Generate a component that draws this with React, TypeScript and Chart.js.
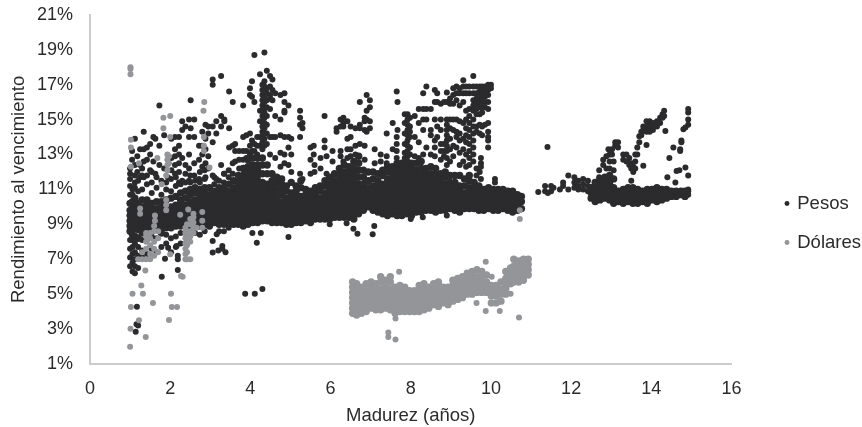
import React, { useEffect, useRef } from "react";
import { Chart, registerables } from "chart.js";

Chart.register(...registerables);

// Each row: [madurez, rendimiento, rendimiento, ...]
const pesosBandA = [
  [1.0, 8.6, 8.9, 9.2, 9.5, 9.8, 10.2],
  [1.06, 8.4, 8.7, 9.0, 9.3, 9.6, 9.9, 10.3],
  [1.12, 8.3, 8.8, 9.1, 9.4, 9.7, 10.0, 10.5],
  [1.2, 8.2, 8.7, 9.0, 9.3, 9.6, 9.9, 10.2],
  [1.3, 8.5, 8.8, 9.1, 9.4, 9.7, 10.0, 10.4],
  [1.42, 8.6, 8.9, 9.2, 9.5, 9.8, 10.1, 10.4],
  [1.54, 8.7, 9.0, 9.3, 9.6, 9.9, 10.2],
  [1.66, 8.7, 9.0, 9.3, 9.6, 9.9, 10.3],
  [1.78, 8.5, 8.8, 9.1, 9.4, 9.7, 10.0, 10.3],
  [1.9, 8.8, 9.1, 9.4, 9.7, 10.0, 10.4],
  [2.02, 8.8, 9.1, 9.4, 9.7, 10.0, 10.5],
  [2.14, 8.9, 9.2, 9.5, 9.8, 10.1, 10.6],
  [2.26, 8.9, 9.2, 9.5, 9.8, 10.1, 10.4, 10.8],
  [2.38, 8.9, 9.2, 9.5, 9.8, 10.1, 10.5, 10.9],
  [2.5, 8.8, 9.1, 9.4, 9.7, 10.0, 10.3, 10.7, 11.0],
  [2.62, 8.9, 9.2, 9.5, 9.8, 10.1, 10.4, 10.8, 11.1],
  [2.74, 8.9, 9.2, 9.5, 9.8, 10.1, 10.4, 10.7, 11.0],
  [2.86, 9.0, 9.3, 9.6, 9.9, 10.2, 10.5, 10.8, 11.1],
  [2.98, 8.9, 9.2, 9.5, 9.8, 10.1, 10.4, 10.7, 11.1],
  [3.1, 9.1, 9.4, 9.7, 10.0, 10.3, 10.6, 10.9],
  [3.22, 9.0, 9.3, 9.6, 9.9, 10.2, 10.5, 10.8, 11.1],
  [3.34, 9.0, 9.3, 9.6, 9.9, 10.2, 10.5, 10.8, 11.1],
  [3.46, 9.1, 9.4, 9.7, 10.0, 10.3, 10.6, 10.9, 11.3],
  [3.58, 9.0, 9.3, 9.6, 9.9, 10.2, 10.5, 10.8, 11.1, 11.5],
  [3.7, 9.0, 9.3, 9.6, 9.9, 10.2, 10.5, 10.8, 11.1, 11.4, 11.8],
  [3.82, 8.9, 9.1, 9.4, 9.7, 10.0, 10.3, 10.6, 10.9, 11.2, 11.5, 11.8, 12.2],
  [3.94, 9.0, 9.3, 9.6, 9.9, 10.2, 10.5, 10.8, 11.1, 11.4, 11.7, 12.0, 12.3, 12.7],
  [4.06, 9.1, 9.4, 9.7, 10.0, 10.3, 10.6, 10.9, 11.2, 11.5, 11.8, 12.1, 12.4, 12.8],
  [4.18, 9.1, 9.4, 9.7, 10.0, 10.3, 10.6, 10.9, 11.2, 11.5, 11.8, 12.1, 12.4, 12.8],
  [4.3, 9.2, 9.5, 9.8, 10.1, 10.4, 10.7, 11.0, 11.4, 11.9, 12.4, 12.8],
  [4.42, 9.2, 9.5, 9.8, 10.1, 10.4, 10.7, 11.0, 11.3, 11.9, 12.4],
];

const pesosBandB = [
  [4.54, 9.1, 9.4, 9.7, 10.0, 10.3, 10.6, 10.9, 11.2, 11.5, 11.9],
  [4.66, 9.1, 9.4, 9.7, 10.0, 10.3, 10.6, 11.0, 11.4, 11.7],
  [4.78, 9.1, 9.4, 9.7, 10.0, 10.3, 10.7, 11.0, 11.3, 11.6],
  [4.9, 9.0, 9.3, 9.6, 9.9, 10.2, 10.5, 10.9, 11.2],
  [5.02, 9.0, 9.3, 9.6, 9.9, 10.2, 10.5, 10.8, 11.4],
  [5.14, 9.1, 9.4, 9.7, 10.0, 10.3, 10.6, 10.9, 11.2],
  [5.26, 9.1, 9.4, 9.7, 10.0, 10.3, 10.6, 11.1, 11.5],
  [5.38, 9.2, 9.5, 9.8, 10.1, 10.4, 10.7, 11.0],
  [5.5, 9.1, 9.4, 9.7, 10.0, 10.3, 10.6, 10.9],
  [5.62, 9.3, 9.6, 9.9, 10.2, 10.5, 10.8, 11.1],
  [5.74, 9.3, 9.6, 9.9, 10.2, 10.5, 10.9, 11.2],
  [5.86, 9.3, 9.6, 9.9, 10.2, 10.5, 10.8, 11.2, 11.5],
  [5.98, 9.3, 9.5, 9.8, 10.1, 10.4, 10.7, 11.0, 11.3, 11.7],
  [6.1, 9.4, 9.7, 10.0, 10.3, 10.6, 10.9, 11.2, 11.5, 11.9],
  [6.22, 9.4, 9.7, 10.0, 10.3, 10.6, 10.9, 11.2, 11.5, 11.8, 12.2],
  [6.34, 9.4, 9.6, 9.9, 10.2, 10.5, 10.8, 11.1, 11.4, 11.7, 12.0, 12.4],
  [6.46, 9.4, 9.6, 9.9, 10.2, 10.5, 10.8, 11.1, 11.4, 11.7, 12.0, 12.3],
  [6.58, 9.3, 9.5, 9.8, 10.1, 10.4, 10.7, 11.0, 11.3, 11.6, 11.9, 12.2, 12.6],
  [6.7, 9.6, 9.8, 10.1, 10.4, 10.7, 11.0, 11.3, 11.7, 12.1, 12.5, 12.9],
  [6.82, 9.8, 10.1, 10.4, 10.7, 11.0, 11.3, 11.7, 12.1],
  [6.94, 10.0, 10.2, 10.5, 10.8, 11.1, 11.5, 12.0],
  [7.06, 9.8, 10.0, 10.3, 10.6, 10.9, 11.2, 11.6, 12.0],
  [7.18, 9.7, 10.0, 10.3, 10.6, 10.9, 11.2, 11.5, 11.9],
  [7.3, 9.6, 9.8, 10.1, 10.4, 10.7, 11.0, 11.3, 11.8, 12.1],
  [7.42, 9.5, 9.8, 10.1, 10.4, 10.7, 11.0, 11.3, 11.6, 12.0, 12.3],
  [7.54, 9.6, 9.9, 10.2, 10.5, 10.8, 11.1, 11.4, 11.7, 12.0, 12.3],
  [7.66, 9.5, 9.8, 10.1, 10.4, 10.7, 11.0, 11.3, 11.6, 11.9, 12.2, 12.5],
  [7.78, 9.5, 9.8, 10.1, 10.4, 10.7, 11.0, 11.3, 11.6, 11.9, 12.2, 12.5],
  [7.9, 9.6, 9.9, 10.2, 10.5, 10.8, 11.1, 11.4, 11.7, 12.0, 12.3, 12.6],
  [8.02, 9.5, 9.8, 10.1, 10.4, 10.7, 11.0, 11.3, 11.6, 11.9, 12.2, 12.5],
  [8.14, 9.7, 10.0, 10.3, 10.6, 10.9, 11.2, 11.5, 11.8, 12.1, 12.5],
  [8.26, 9.7, 10.0, 10.3, 10.6, 10.9, 11.2, 11.5, 11.8, 12.2, 12.6],
  [8.38, 9.8, 10.1, 10.4, 10.7, 11.0, 11.3, 11.6, 11.9, 12.2],
  [8.5, 9.8, 10.1, 10.4, 10.7, 11.0, 11.3, 11.6, 11.9, 12.3],
  [8.62, 9.7, 10.0, 10.3, 10.6, 10.9, 11.2, 11.5, 11.8, 12.2],
  [8.74, 9.8, 10.1, 10.4, 10.7, 11.0, 11.3, 11.6, 11.9],
  [8.86, 9.8, 10.1, 10.4, 10.7, 11.0, 11.3, 11.7, 12.0],
  [8.98, 9.9, 10.2, 10.5, 10.8, 11.1, 11.4, 11.8],
];

const pesosBandC = [
  [9.1, 9.8, 10.1, 10.4, 10.7, 11.0, 11.4, 11.8],
  [9.22, 9.7, 10.0, 10.3, 10.6, 10.9, 11.2, 11.8],
  [9.34, 9.9, 10.2, 10.5, 10.8, 11.2, 11.6],
  [9.46, 9.9, 10.2, 10.5, 10.8, 11.1, 11.5, 11.8],
  [9.58, 9.9, 10.2, 10.5, 10.8, 11.1, 11.4],
  [9.7, 9.8, 10.1, 10.4, 10.7, 11.0, 11.2],
  [9.82, 9.8, 10.1, 10.4, 10.7, 11.0],
  [9.94, 9.9, 10.2, 10.5, 10.8, 11.1],
  [10.06, 9.8, 10.1, 10.4, 10.7, 11.0],
  [10.18, 9.8, 10.1, 10.4, 10.7, 11.0],
  [10.3, 9.9, 10.2, 10.5, 10.8, 11.0],
  [10.42, 9.8, 10.1, 10.4, 10.7, 10.9],
  [10.54, 9.7, 10.0, 10.3, 10.6, 10.9],
  [10.66, 9.8, 10.1, 10.4, 10.7],
  [10.76, 9.9, 10.3, 10.6],
  [12.5, 10.5, 10.8, 11.1], [12.6, 10.3, 10.5, 10.8, 11.1, 11.4],
  [12.72, 10.4, 10.7, 11.0, 11.3, 11.6], [12.84, 10.5, 10.8, 11.1, 11.4, 11.7],
  [12.96, 10.4, 10.7, 11.0, 11.4, 11.8], [13.06, 10.2, 10.5, 10.8, 11.1, 11.6],
  [13.18, 10.3, 10.6, 10.9], [13.3, 10.2, 10.5, 10.8, 11.0], [13.42, 10.3, 10.6, 10.9, 11.1],
  [13.54, 10.2, 10.5, 10.8, 11.1], [13.66, 10.2, 10.5, 10.8, 11.0], [13.78, 10.3, 10.6, 10.9],
  [13.9, 10.2, 10.5, 10.8, 11.0], [14.02, 10.4, 10.7, 11.0], [14.14, 10.3, 10.6, 10.9, 11.1],
  [14.26, 10.4, 10.7, 11.0], [14.38, 10.5, 10.8, 11.0], [14.5, 10.6, 10.9],
  [14.62, 10.6, 10.9], [14.74, 10.7, 10.9], [14.84, 10.6, 10.9],
];

const pesosGapRight = [
  [11.18, 10.85], [11.35, 10.9, 11.2], [11.42, 10.8], [11.5, 10.9, 11.2], [11.56, 11.1],
  [11.72, 11.0], [11.8, 11.4, 11.2], [11.93, 11.8, 11.0],
  [12.08, 11.7, 11.4, 11.1], [12.18, 11.5, 11.2, 11.0], [12.3, 11.6, 11.3, 11.0], [12.42, 11.5, 11.2, 10.9],
  [12.96, 12.2, 12.6, 13.0], [13.06, 12.1, 12.6], [14.92, 10.7, 10.9, 11.0],
];

const pesosStrip = [
  [1.0, 6.6, 7.1, 7.6, 8.1, 10.7, 11.2, 11.6, 11.9, 12.2],
  [1.06, 6.3, 6.8, 7.3, 7.7, 8.1, 10.7, 11.0],
  [1.12, 6.2, 6.6, 7.0, 7.4, 7.9, 11.1, 11.4],
  [1.2, 6.5, 7.2, 7.7, 10.9, 11.5],
  [1.3, 7.1, 7.5, 8.1, 11.0, 11.8, 12.2],
  [1.42, 7.3, 8.1, 11.3, 11.8],
  [1.54, 7.6, 8.3, 10.8, 11.4, 12.0],
  [1.66, 7.4, 8.2, 11.1, 11.7],
  [1.78, 7.7, 10.7, 11.5],
  [1.9, 7.9, 8.4, 11.0, 11.4],
  [2.02, 7.4, 8.2, 10.9, 11.6],
  [2.14, 7.7, 8.3, 11.2, 11.7],
  [2.26, 7.9, 8.5, 11.3],
  [2.38, 8.5, 11.4, 11.9],
  [2.5, 8.4, 11.4, 11.8],
  [2.62, 8.5, 11.5],
  [2.74, 8.4, 11.4, 12.0],
  [2.86, 8.6, 11.6, 12.1],
  [3.1, 11.3, 11.7],
  [3.22, 8.6, 11.5],
  [3.34, 8.6, 11.4, 11.9],
  [3.46, 8.8, 11.7, 12.1],
];

const pesosUpperLeft = [
  [1.05, 12.7, 13.2], [1.12, 11.8, 12.4, 13.9], [1.18, 12.9, 12.0], [1.25, 13.3, 12.4, 11.7],
  [1.34, 14.3, 13.3, 12.6, 11.7], [1.42, 13.4, 12.7], [1.5, 13.6, 13.0, 12.1], [1.58, 14.0, 12.6],
  [1.63, 13.9, 11.9], [1.73, 15.8, 13.5, 12.4], [1.85, 14.1, 12.2], [1.94, 12.7, 11.7],
  [2.03, 13.9, 12.8, 12.1], [2.12, 14.0, 13.3, 12.9, 12.4, 11.9], [2.22, 14.0, 13.5, 13.0, 12.5, 12.0, 11.4],
  [2.3, 14.9, 14.4, 12.8, 11.5], [2.38, 14.6, 12.4], [2.47, 15.0, 14.0, 13.0, 12.2, 11.5],
  [2.51, 16.1, 14.5], [2.6, 15.0, 14.0, 12.5, 11.8], [2.72, 13.5, 12.7, 11.6], [2.8, 14.3, 13.5, 13.0, 12.3],
  [2.88, 14.7, 13.9, 13.3, 12.5, 11.7], [2.95, 14.6, 14.2, 12.9, 12.2], [3.06, 17.3, 17.0, 14.6, 13.7, 11.8],
  [3.15, 14.9, 14.2, 11.6], [3.27, 17.5, 15.2, 14.6, 12.4], [3.35, 15.0, 14.9, 11.9], [3.47, 16.6, 14.5, 13.4],
  [3.56, 16.0, 13.5, 12.5, 11.9], [3.62, 13.6, 13.2, 12.6], [3.72, 13.2, 12.7, 12.2], [3.82, 15.8, 14.0, 13.2, 12.7],
  [3.9, 14.1, 13.2, 12.8], [3.99, 16.8, 16.4, 14.2, 13.5, 13.0], [4.04, 17.2, 16.3, 13.8, 13.2],
  [4.1, 18.7, 16.0, 13.6, 13.2], [4.17, 14.0, 13.5, 13.0], [4.24, 17.6, 15.5, 14.9, 14.0, 13.5],
  [4.3, 17.0, 16.7, 16.4, 16.1, 15.8, 15.5, 15.2, 14.9, 14.6, 14.3, 14.0, 13.7, 13.3],
  [4.35, 18.84, 17.2, 16.9, 16.6, 16.3, 16.0, 15.7, 15.4, 15.1, 14.8, 14.5, 14.2, 13.9, 13.5],
  [4.41, 17.8, 16.8, 16.5, 16.1, 15.7, 15.2, 14.7, 14.2, 13.6],
  [4.49, 17.5, 16.9, 16.4, 16.2, 15.6, 14.0, 13.0], [4.55, 17.3, 16.7, 16.1, 14.0],
  [4.62, 16.5, 15.2, 14.0, 12.8], [4.75, 16.4, 15.0, 14.1, 13.1, 12.3], [4.85, 16.0, 16.5, 15.5, 15.4, 14.0, 13.0, 12.5],
  [4.95, 15.8, 14.0, 13.4, 12.4], [5.02, 13.9, 13.0, 12.0], [5.24, 15.5, 15.1, 14.7, 14.0, 11.9],
  [5.3, 14.8, 14.5, 11.6], [5.5, 13.4, 12.7, 11.9], [5.58, 13.5, 13.0], [5.6, 12.4, 12.0],
  [5.75, 12.8, 12.2], [5.85, 15.2, 13.8, 13.4], [5.9, 12.9, 11.9], [6.05, 13.2, 12.6], [6.15, 14.5, 14.3],
];

const pesosUpperMid = [
  [6.25, 14.6, 15.0, 13.2, 12.9], [6.32, 15.1, 14.8, 14.6, 12.6], [6.42, 14.9, 13.9, 13.3, 12.8],
  [6.5, 14.6, 14.0, 13.3, 12.9], [6.62, 14.5, 13.5, 13.0], [6.73, 16.0, 14.7, 14.5, 13.6],
  [6.85, 15.1, 14.9, 14.4, 13.5, 12.7], [6.9, 16.4, 15.5, 15.0, 14.3], [6.98, 16.1, 15.7, 14.9, 14.5],
  [7.1, 13.3, 12.5], [7.25, 13.0, 12.6], [7.4, 14.2, 12.9, 12.5], [7.55, 14.8, 13.3],
  [7.65, 16.6, 14.0, 13.6, 13.2, 12.8], [7.67, 16.0, 14.4], [7.85, 15.3, 14.8, 14.2, 13.6, 13.1, 12.8],
  [7.92, 15.3, 15.0, 14.7, 14.4, 14.1, 13.8, 13.5, 13.2, 12.9], [7.98, 15.1, 14.6, 14.3, 14.0, 13.4, 13.0],
  [8.1, 15.2, 14.0, 12.9], [8.2, 15.6, 14.8, 13.7, 12.8], [8.31, 16.5, 15.6, 15.0, 14.4, 13.0],
  [8.39, 16.9, 15.6, 15.0, 13.4], [8.5, 15.6, 14.4, 14.1, 13.0], [8.6, 16.7, 16.0, 15.0, 13.8, 13.4, 12.9],
  [8.66, 16.5, 16.0, 14.6, 14.0], [8.75, 15.9, 15.0, 14.4, 13.6, 13.2, 12.7], [8.83, 16.0, 13.6, 13.2, 12.9],
  [8.9, 16.55, 16.0, 15.0, 14.7, 14.4, 14.1, 13.8, 13.5, 13.2, 12.8, 12.4], [8.98, 16.2, 15.9, 15.0, 14.5, 13.9, 13.3, 12.6],
  [9.06, 16.8, 16.4, 15.9, 15.0, 14.4, 13.5, 12.9], [9.14, 16.9, 16.5, 16.1, 15.0, 14.3, 14.0, 13.4],
  [9.22, 16.8, 16.5, 15.8, 14.9, 14.2, 13.8, 13.1, 12.4], [9.31, 17.25, 16.9, 16.5, 16.0, 14.8, 13.9, 13.3, 12.6],
  [9.38, 16.9, 16.5, 15.5, 15.0, 14.5, 14.1, 13.7, 13.0, 12.3], [9.46, 16.9, 16.5, 15.6, 15.2, 14.8, 14.4, 14.0, 13.6, 13.2, 12.8, 12.4],
  [9.56, 17.5, 16.9, 16.5, 16.1, 15.8, 15.5, 15.0, 14.6, 14.2, 13.8, 13.4, 13.0, 12.6],
  [9.64, 16.9, 16.5, 16.2, 15.9, 15.6, 15.3, 14.6, 14.3, 12.2, 11.8], [9.72, 16.9, 16.6, 16.3, 16.0, 15.7, 15.3, 14.7, 14.2, 12.0],
  [9.78, 16.9, 16.6, 16.3, 16.0, 15.7, 15.4, 14.6, 14.1], [9.85, 16.9, 16.6, 16.3, 16.0, 15.7, 14.7],
  [9.93, 17.0, 16.7, 16.4, 16.0, 15.6, 14.8, 14.3, 14.0, 13.8, 13.4], [10.0, 17.0, 16.8], [9.75, 12.8, 12.5, 12.3, 11.6],
  [10.1, 11.6, 11.4],
];

const pesosUpperRight = [
  [11.41, 13.43], [12.7, 11.7, 12.1], [12.8, 12.4, 12.7], [12.88, 12.2, 12.9], [12.93, 13.3], [13.02, 13.0, 13.3],
  [13.1, 13.7, 13.5], [13.17, 13.7, 13.4], [13.3, 13.0, 12.7], [13.38, 13.0, 12.6], [13.45, 12.8, 12.4], [13.5, 12.5, 12.2, 11.5],
  [13.55, 12.3, 12.0], [13.6, 12.2, 12.6, 13.0], [13.65, 13.4, 13.0], [13.7, 14.05, 13.7], [13.75, 14.3, 14.1],
  [13.8, 14.6, 14.4, 12.35], [13.88, 14.9, 14.6, 14.3, 13.55], [13.96, 14.9, 14.6, 14.3], [14.04, 14.8, 14.6, 14.4],
  [14.14, 14.9, 14.6], [14.22, 15.1, 14.8], [14.28, 15.3, 15.1], [14.32, 15.5, 15.2], [14.35, 14.35],
  [14.92, 15.6, 15.4, 15.0, 14.7, 11.8], [14.8, 14.45], [14.85, 14.55, 12.25], [14.75, 13.7, 13.8], [14.55, 13.4], [14.72, 13.2, 13.3],
  [14.45, 12.8], [14.63, 12.05], [14.7, 12.1], [14.6, 11.4], [14.4, 11.7],
];

const pesosLower = [
  [1.16, 3.27], [1.2, 3.2], [1.14, 2.85], [1.17, 4.28], [1.79, 6.0], [2.19, 6.38, 7.2, 7.0], [1.87, 7.03],
  [1.95, 7.66], [2.16, 7.76], [3.87, 5.03], [4.11, 5.03], [4.3, 5.3], [3.06, 8.04, 7.38], [3.2, 7.5],
  [3.3, 7.76, 7.6], [3.38, 7.4], [3.16, 8.43], [4.16, 7.95], [4.05, 8.5], [4.26, 8.5], [4.95, 8.27],
  [5.98, 9.0], [6.4, 9.06], [6.57, 8.75], [6.67, 8.46], [7.05, 8.43], [7.09, 8.9], [8.3, 9.4], [8.9, 9.5], [8.0, 9.3],
];

const dolaresBand = [
  [6.55, 3.9, 4.2, 4.5, 4.8, 5.1, 5.4, 5.7], [6.65, 3.8, 4.1, 4.4, 4.7, 5.0, 5.3, 5.6],
  [6.77, 3.9, 4.2, 4.5, 4.8, 5.1, 5.4], [6.89, 4.0, 4.3, 4.6, 4.9, 5.2, 5.6], [7.01, 4.2, 4.5, 4.8, 5.1, 5.4, 5.7],
  [7.13, 4.1, 4.4, 4.7, 5.0, 5.3, 5.6], [7.25, 4.1, 4.4, 4.7, 5.0, 5.3, 5.7, 6.0], [7.37, 4.2, 4.5, 4.8, 5.1, 5.4, 5.8],
  [7.49, 4.1, 4.4, 4.7, 5.0, 5.3, 5.7, 6.0], [7.61, 3.9, 4.2, 4.5, 4.8, 5.1, 5.4], [7.73, 4.0, 4.3, 4.6, 4.9, 5.2, 5.5],
  [7.85, 4.0, 4.3, 4.6, 4.9, 5.2, 5.4], [7.97, 4.0, 4.3, 4.6, 4.9, 5.2], [8.09, 4.0, 4.3, 4.6, 4.9, 5.2],
  [8.21, 4.0, 4.3, 4.6, 4.9, 5.2, 5.5], [8.33, 4.1, 4.4, 4.7, 5.0, 5.3, 5.6], [8.45, 4.2, 4.5, 4.8, 5.1, 5.4],
  [8.57, 4.4, 4.7, 5.0, 5.3, 5.6], [8.69, 4.3, 4.6, 4.9, 5.2, 5.5, 5.7], [8.81, 4.5, 4.8, 5.1, 5.4],
  [8.93, 4.4, 4.7, 5.0, 5.3, 5.4], [9.05, 4.6, 4.9, 5.2, 5.5, 5.8], [9.17, 4.7, 5.0, 5.3, 5.6, 5.9],
  [9.29, 4.8, 5.1, 5.4, 5.7, 6.0], [9.41, 5.0, 5.3, 5.6, 5.9, 6.2], [9.53, 5.0, 5.3, 5.6, 5.9, 6.3],
  [9.65, 5.1, 5.4, 5.7, 6.0, 6.4], [9.77, 5.1, 5.4, 5.7, 6.0, 6.3], [9.89, 5.1, 5.4, 5.7, 6.1],
  [10.01, 4.5, 4.9, 5.2, 5.5], [10.13, 4.5, 4.9, 5.2, 5.5], [10.25, 4.6, 5.0, 5.3, 5.7],
  [10.37, 5.0, 5.3, 5.6, 5.9, 6.3], [10.49, 5.6, 5.9, 6.2, 6.5], [10.57, 5.7, 6.0, 6.3, 6.6, 7.0],
  [10.69, 5.7, 6.0, 6.3, 6.6, 6.9], [10.81, 5.8, 6.1, 6.4, 6.7, 7.0], [10.93, 6.1, 6.4, 6.7, 7.0],
];

const dolaresOutliers = [
  [7.71, 6.29], [9.87, 6.85], [10.02, 5.99], [9.64, 4.5], [9.87, 4.04], [10.22, 4.04], [10.49, 5.03], [10.7, 3.66],
  [7.44, 2.8, 2.55], [7.62, 2.41, 3.6], [10.72, 9.3], [10.72, 9.8],
  [1.0, 1.99], [1.01, 3.02], [1.22, 3.5], [1.39, 2.54], [1.02, 4.26], [1.57, 4.5], [1.06, 5.03], [1.32, 5.03],
  [1.28, 5.5], [2.02, 5.03], [2.04, 4.26], [2.17, 4.26], [1.97, 3.52], [1.38, 6.36], [2.0, 7.28], [2.27, 6.04], [2.31, 6.0],
  [1.01, 18.0, 17.9, 17.6], [2.85, 16.0], [2.83, 15.5], [2.0, 15.2], [1.83, 15.1, 14.5], [2.0, 14.0], [1.02, 13.85, 13.4, 12.3],
  [2.84, 14.0, 13.5, 13.2], [1.68, 12.8], [1.22, 12.5], [1.93, 13.0, 12.7, 12.4, 12.1], [1.97, 12.9, 12.5], [1.79, 11.3],
  [2.98, 12.25], [1.9, 11.8, 10.4, 10.1, 9.8], [1.25, 9.9, 9.6], [1.62, 9.5, 9.2], [2.25, 9.55], [2.45, 9.85],
];

const dolaresLeft = [
  [1.2, 7.0], [1.3, 7.0, 7.4], [1.4, 7.0, 7.6, 8.0, 8.3, 8.5], [1.5, 7.0, 7.3, 7.8, 8.2, 8.5], [1.6, 7.2, 7.6, 8.0, 8.6, 8.9],
  [1.7, 7.4, 8.2, 8.6], [2.38, 7.0, 7.3, 7.6, 7.9, 8.2, 8.5, 8.8], [2.42, 7.0, 7.4, 7.8, 8.2, 8.6, 9.0],
  [2.5, 7.0, 8.0, 8.3, 8.6, 9.0, 9.3], [2.58, 8.5, 8.8, 9.1, 9.4, 9.6], [2.66, 8.8], [2.8, 8.8, 9.2, 9.7],
];

const xTicks = { min: 0, max: 16, step: 2 };
const yTicks = { min: 1, max: 21, step: 2 };

const toPoints = (...groups: number[][][]) =>
  groups.flat().flatMap(([x, ...ys]) => ys.map((y) => ({ x, y })));

const FONT = "'Liberation Sans', Arial, sans-serif";
const INK = "#2b2b2d";
const GREY = "#939598";

const moveLegend = {
  id: "moveLegend",
  afterLayout(chart: any) {
    const l = chart.legend;
    const dx = 765.5 - l.left;
    const dy = 223 - (l.top + l.bottom) / 2;
    l.left += dx;
    l.right += dx;
    l.top += dy;
    l.bottom += dy;
  },
};

export default function App() {
  const ref = useRef<HTMLCanvasElement>(null);
  useEffect(() => {
    document.body.style.margin = "0";
    const chart = new Chart(ref.current!, {
      type: "scatter",
      plugins: [moveLegend],
      data: {
        datasets: [
          {
            label: "Pesos",
            order: 2,
            data: toPoints(pesosStrip, pesosGapRight, pesosUpperLeft, pesosUpperMid, pesosUpperRight, pesosLower),
            backgroundColor: INK,
            borderWidth: 0,
            pointRadius: 3,
          },
          {
            label: "Dólares",
            order: 0,
            data: toPoints(dolaresBand),
            backgroundColor: GREY,
            borderWidth: 0,
            pointRadius: 3.7,
          },
          {
            label: "Pesos",
            order: 1,
            data: toPoints(pesosBandA, pesosBandB, pesosBandC),
            backgroundColor: INK,
            borderWidth: 0,
            pointRadius: 3.7,
          },
          {
            label: "Dólares",
            order: 0,
            data: toPoints(dolaresOutliers, dolaresLeft),
            backgroundColor: GREY,
            borderWidth: 0,
            pointRadius: 3,
          },
        ],
      },
      options: {
        animation: false,
        responsive: false,
        layout: { padding: { top: 5, right: 25, bottom: 0, left: 8 } },
        plugins: {
          tooltip: { enabled: false },
          legend: {
            position: "right",
            labels: {
              usePointStyle: true,
              pointStyle: "circle",
              boxWidth: 2,
              boxHeight: 3.5,
              padding: 20.5,
              color: INK,
              font: { family: FONT, size: 18.5 },
              filter: (item: any) => item.datasetIndex < 2,
              sort: (a: any, b: any) => a.datasetIndex - b.datasetIndex,
            },
          },
        },
        scales: {
          x: {
            type: "linear",
            min: xTicks.min,
            max: xTicks.max,
            border: { color: "#cccccc", width: 2 },
            grid: { display: false },
            afterFit: (s: any) => { s.height = 63; },
            ticks: { stepSize: xTicks.step, color: INK, font: { family: FONT, size: 18 }, padding: 6, maxRotation: 0 },
            title: { display: true, text: "Madurez (años)", color: INK, font: { family: FONT, size: 18.5 }, padding: { top: 0, bottom: 0 } },
          },
          y: {
            type: "linear",
            min: yTicks.min,
            max: yTicks.max,
            border: { color: "#cccccc", width: 2 },
            grid: { display: false, tickLength: 13 },
            afterFit: (s: any) => { s.width = 82; },
            ticks: { stepSize: yTicks.step, color: INK, font: { family: FONT, size: 18 }, padding: 4, callback: (v: any) => `${v}%` },
            title: { display: true, text: "Rendimiento al vencimiento", color: INK, font: { family: FONT, size: 18.5 }, padding: { top: 0, bottom: 4 } },
          },
        },
      },
    } as any);
    return () => chart.destroy();
  }, []);
  return <canvas ref={ref} width={862} height={427} style={{ display: "block" }} />;
}
